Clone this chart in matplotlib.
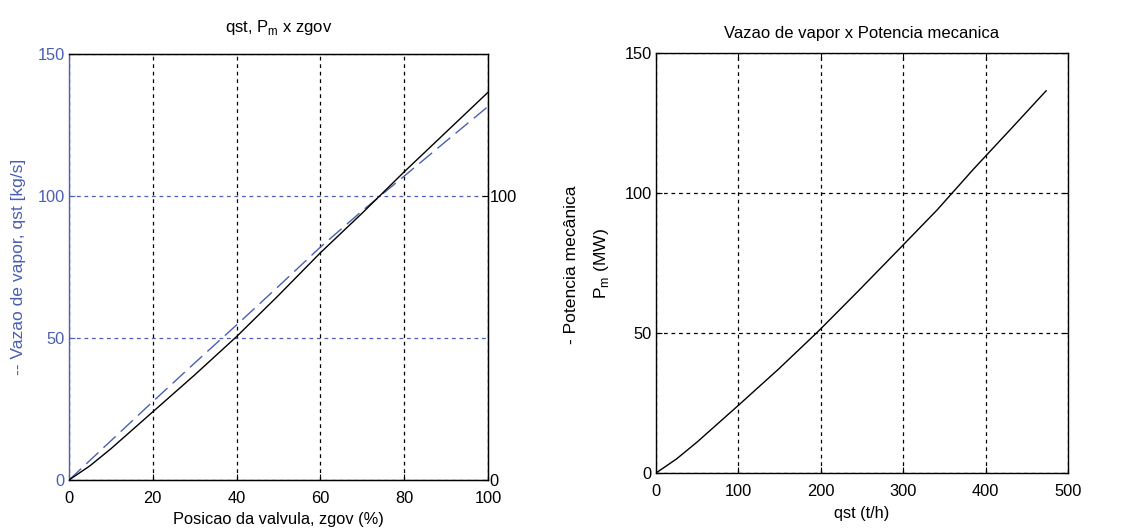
import matplotlib
matplotlib.use("Agg")
import matplotlib.pyplot as plt

plt.rcParams['font.family'] = ['Liberation Sans', 'DejaVu Sans']

# Data
zgov = [0, 5, 10, 20, 30, 40, 50, 60, 70, 80, 90, 100]
qst_kgs = [0, 6.9, 13.8, 27.6, 41.2, 54.6, 68.2, 82.0, 94.8, 107.0, 119.3, 131.5]
pm_mw = [0, 5.0, 11.0, 24.0, 37.0, 50.5, 65.0, 80.0, 94.0, 108.5, 122.5, 136.5]
qst_th = [q * 3.6 for q in qst_kgs]

left_yticks = [0, 50, 100, 150]
right_yticks = [0, 100]
zgov_ticks = [0, 20, 40, 60, 80, 100]
qth_ticks = [0, 100, 200, 300, 400, 500]
pm_ticks = [0, 50, 100, 150]

BLUE = '#4a5fb5'
FS = 11.8
FT = 12.0
FY = 12.6

fig = plt.figure(figsize=(11.29, 5.30), dpi=100)

# ---- Left plot (plotyy style) ----
ax1 = fig.add_axes([0.0611, 0.0943, 0.3711, 0.8038])
ax1.plot(zgov, qst_kgs, color=BLUE, lw=1.0, dashes=(12, 5))
ax1.set_xlim(0, 100)
ax1.set_ylim(0, 150)
ax1.set_xticks(zgov_ticks)
ax1.set_yticks(left_yticks)
ax1.tick_params(axis='y', colors=BLUE, direction='in', length=4, labelsize=FS, pad=3)
ax1.tick_params(axis='x', direction='in', length=4, labelsize=FS, colors='black', pad=8)
ax1.spines['left'].set_color(BLUE)
for sp in ['top', 'bottom', 'right']:
    ax1.spines[sp].set_color('black')
for s in ax1.spines.values():
    s.set_linewidth(1.0)
ax1.grid(True, axis='x', color='black', linestyle=(0, (3, 3)), lw=0.9)
ax1.grid(True, axis='y', color=BLUE, linestyle=(0, (3, 3)), lw=0.9)
ax1.set_xlabel('Posicao da valvula, zgov (%)', fontsize=FS, labelpad=4)
ax1.set_ylabel('-- Vazao de vapor, qst [kg/s]', fontsize=FY, color=BLUE, labelpad=8)
ax1.set_title('qst, P$_\\mathregular{m}$ x zgov', fontsize=FT, pad=16)

ax2 = ax1.twinx()
ax2.plot(zgov, pm_mw, color='black', lw=1.0)
ax2.set_ylim(0, 150)
ax2.set_yticks(right_yticks)
ax2.tick_params(axis='y', direction='in', length=4, labelsize=FS, pad=1)
ax2.spines['left'].set_visible(False)
fig.text(571 / 1129, 1 - 265 / 530, '- Potencia mecânica', rotation=90,
         ha='center', va='center', fontsize=FY)

# ---- Right plot ----
ax3 = fig.add_axes([0.581, 0.1075, 0.365, 0.7925])
ax3.plot(qst_th, pm_mw, color='black', lw=1.0)
ax3.set_xlim(0, 500)
ax3.set_ylim(0, 150)
ax3.set_xticks(qth_ticks)
ax3.set_yticks(pm_ticks)
ax3.tick_params(direction='in', length=4, labelsize=FS, right=True, top=True)
ax3.tick_params(axis='x', pad=8)
ax3.tick_params(axis='y', pad=3)
for s in ax3.spines.values():
    s.set_linewidth(1.0)
ax3.grid(True, color='black', linestyle=(0, (3, 3)), lw=0.9)
ax3.set_xlabel('qst (t/h)', fontsize=FS, labelpad=5)
ax3.set_ylabel('P$_\\mathregular{m}$ (MW)', fontsize=FY, labelpad=10)
ax3.set_title('Vazao de vapor x Potencia mecanica', fontsize=FT, pad=11)

fig.savefig('out.png', dpi=100, facecolor='white')
